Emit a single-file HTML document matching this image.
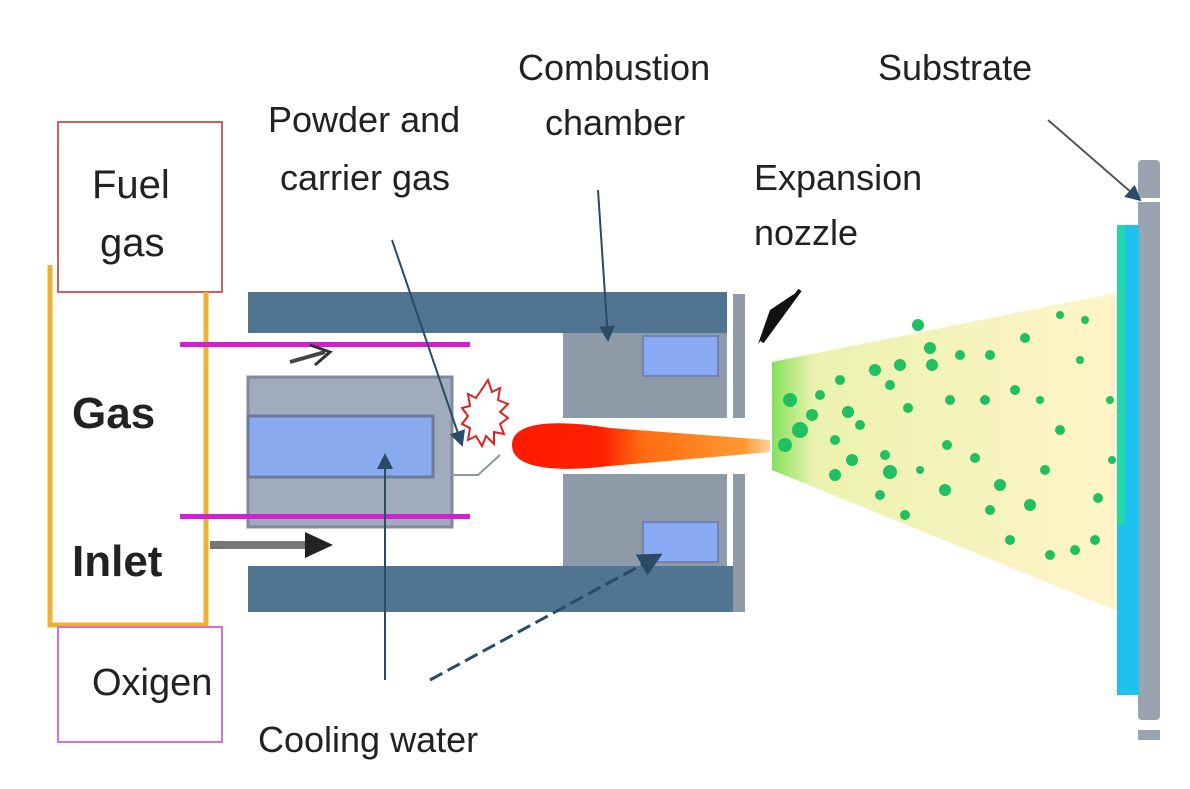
<!DOCTYPE html><html><head><style>html,body{margin:0;padding:0;background:#fff;width:1190px;height:789px;overflow:hidden}
text{font-family:"Liberation Sans",sans-serif;fill:#222}</style></head><body>
<svg width="1190" height="789" viewBox="0 0 1190 789" xmlns="http://www.w3.org/2000/svg">
<defs>
<linearGradient id="fl" x1="0" x2="1"><stop offset="0" stop-color="#ff1a00"/><stop offset="0.35" stop-color="#ff2000"/><stop offset="0.5" stop-color="#ff6a10"/><stop offset="0.9" stop-color="#ff9a30"/><stop offset="1" stop-color="#ffd0a0"/></linearGradient>
<linearGradient id="sp" x1="0" x2="1"><stop offset="0" stop-color="#6fdc40"/><stop offset="0.12" stop-color="#e8f0a0"/><stop offset="1" stop-color="#fff2c0"/></linearGradient>
<marker id="ah" markerWidth="8" markerHeight="8" refX="7" refY="4" orient="auto"><path d="M0,0 L8,4 L0,8z" fill="#2a4a66"/></marker>
</defs>
<!-- left boxes -->
<rect x="58" y="122" width="164" height="170" fill="none" stroke="#d06060" stroke-width="2"/>
<path d="M50,265 V625 H206 V292" fill="none" stroke="#f0b030" stroke-width="5"/>
<rect x="58" y="627" width="164" height="115" fill="none" stroke="#d070d0" stroke-width="2"/>
<text x="92" y="198" font-size="40">Fuel</text>
<text x="100" y="256" font-size="40">gas</text>
<text x="72" y="428" font-size="44" font-weight="bold" fill="#333">Gas</text>
<text x="72" y="576" font-size="44" font-weight="bold" fill="#333">Inlet</text>
<text x="92" y="695" font-size="38">Oxigen</text>
<!-- housing -->
<rect x="248" y="292" width="479" height="41" fill="#4f7590"/>
<rect x="248" y="566" width="497" height="46" fill="#4f7590"/>
<rect x="563" y="333" width="164" height="85" fill="#8f9aa8"/>
<rect x="563" y="474" width="164" height="92" fill="#8f9aa8"/>
<rect x="643" y="336" width="75" height="40" fill="#8aaaf5" stroke="#6f84b0" stroke-width="2"/>
<rect x="643" y="522" width="75" height="40" fill="#8aaaf5" stroke="#6f84b0" stroke-width="2"/>
<rect x="733" y="294" width="12" height="124" fill="#8f9aa8"/>
<rect x="733" y="474" width="12" height="138" fill="#8f9aa8"/>
<!-- inner tube -->
<rect x="248" y="377" width="204" height="150" fill="#a0abbb"/>
<rect x="248" y="377" width="204" height="150" fill="none" stroke="#7f8a9b" stroke-width="3"/>
<rect x="248" y="416" width="185" height="61" fill="#8aaaf0" stroke="#6a7a98" stroke-width="3"/>
<path d="M452,475 H478 L500,455" stroke="#8a9aa0" stroke-width="2" fill="none"/>
<!-- magenta lines -->
<rect x="180" y="342" width="290" height="5" fill="#d020d0"/>
<rect x="180" y="514" width="290" height="5" fill="#d020d0"/>
<!-- arrows -->
<path d="M290,362 L325,352" stroke="#444" stroke-width="4" fill="none"/><path d="M310,345 L330,352 L315,365" fill="none" stroke="#333" stroke-width="3"/>
<rect x="210" y="541" width="100" height="8" fill="#777"/><path d="M305,532 L333,545 L305,558z" fill="#222"/>
<!-- explosion -->
<path d="M488,380 l4,12 8,-4 -2,12 10,4 -8,8 8,6 -8,6 4,10 -10,-2 0,12 -8,-8 -4,10 -6,-10 -8,4 2,-12 -8,-4 6,-8 -6,-8 8,-2 -2,-12 8,4z" fill="#fff" stroke="#e02020" stroke-width="2"/>
<!-- flame -->
<path d="M512,445 C512,420 560,420 610,428 L770,440 L770,452 L610,466 C560,472 512,470 512,445z" fill="url(#fl)"/>
<!-- spray -->
<path d="M772,362 L1120,292 L1120,612 L772,470z" fill="url(#sp)" opacity="0.85"/>
<g fill="#20c060">
<circle cx="790" cy="400" r="7"/><circle cx="800" cy="430" r="8"/><circle cx="785" cy="445" r="7"/><circle cx="812" cy="415" r="6"/><circle cx="820" cy="395" r="5"/><circle cx="840" cy="380" r="5"/><circle cx="848" cy="412" r="6"/><circle cx="835" cy="440" r="5"/><circle cx="860" cy="425" r="5"/><circle cx="852" cy="460" r="6"/><circle cx="835" cy="475" r="6"/><circle cx="875" cy="370" r="6"/><circle cx="890" cy="385" r="5"/><circle cx="900" cy="365" r="6"/><circle cx="918" cy="325" r="6"/><circle cx="930" cy="348" r="6"/><circle cx="932" cy="365" r="6"/><circle cx="908" cy="408" r="5"/><circle cx="885" cy="455" r="5"/><circle cx="890" cy="472" r="7"/><circle cx="880" cy="495" r="5"/><circle cx="905" cy="515" r="5"/><circle cx="950" cy="400" r="5"/><circle cx="960" cy="355" r="5"/><circle cx="990" cy="355" r="5"/><circle cx="947" cy="445" r="5"/><circle cx="945" cy="490" r="6"/><circle cx="985" cy="400" r="5"/><circle cx="1015" cy="390" r="5"/><circle cx="1025" cy="338" r="5"/><circle cx="1000" cy="485" r="6"/><circle cx="975" cy="458" r="5"/><circle cx="990" cy="510" r="5"/><circle cx="1010" cy="540" r="5"/><circle cx="1030" cy="505" r="6"/><circle cx="1045" cy="470" r="5"/><circle cx="1060" cy="430" r="5"/><circle cx="1060" cy="315" r="4"/><circle cx="1085" cy="320" r="4"/><circle cx="1050" cy="555" r="5"/><circle cx="1075" cy="550" r="5"/><circle cx="1098" cy="498" r="5"/><circle cx="1095" cy="540" r="5"/><circle cx="1110" cy="400" r="4"/><circle cx="1112" cy="460" r="4"/><circle cx="1040" cy="400" r="4"/><circle cx="920" cy="470" r="4"/><circle cx="1080" cy="360" r="4"/>
</g>
<!-- substrate -->
<rect x="1138" y="160" width="22" height="560" rx="4" fill="#9aa3b0"/>
<rect x="1132" y="198" width="30" height="4" fill="#fff"/>
<rect x="1117" y="225" width="22" height="470" fill="#20c0ee"/>
<rect x="1117" y="225" width="8" height="300" fill="#20d8b0"/>
<rect x="1138" y="730" width="22" height="10" fill="#9aa3b0"/>
<!-- labels -->
<text x="518" y="80" font-size="36">Combustion</text>
<text x="545" y="135" font-size="36">chamber</text>
<text x="268" y="132" font-size="36">Powder and</text>
<text x="280" y="190" font-size="36">carrier gas</text>
<text x="878" y="80" font-size="36">Substrate</text>
<text x="754" y="190" font-size="36">Expansion</text>
<text x="754" y="245" font-size="36">nozzle</text>
<text x="258" y="752" font-size="36">Cooling water</text>
<!-- leaders -->
<line x1="392" y1="240" x2="462" y2="445" stroke="#2a4a66" stroke-width="2" marker-end="url(#ah)"/>
<line x1="598" y1="190" x2="608" y2="340" stroke="#2a4a66" stroke-width="2" marker-end="url(#ah)"/>
<line x1="1048" y1="120" x2="1140" y2="200" stroke="#555" stroke-width="2" marker-end="url(#ah)"/>
<path d="M800,290 L758,344 L770,310z" fill="#111"/><line x1="800" y1="290" x2="762" y2="342" stroke="#111" stroke-width="4"/>
<line x1="385" y1="680" x2="385" y2="455" stroke="#2a4a66" stroke-width="2" marker-end="url(#ah)"/>
<line x1="430" y1="680" x2="660" y2="555" stroke="#2a4a66" stroke-width="3" stroke-dasharray="14,6" marker-end="url(#ah)"/>
</svg></body></html>
